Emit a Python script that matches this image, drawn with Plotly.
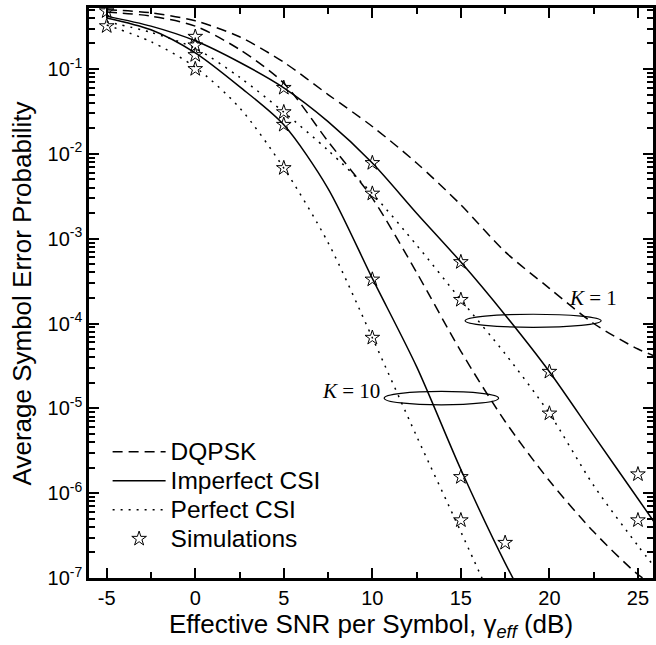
import plotly.graph_objects as go

# ---------------- data ----------------
snr_db = [-5, -2.5, 0, 2.5, 5, 7.5, 10, 12.5, 15, 17.5, 20, 22.5, 25, 26]

dqpsk_k1 = [0.50, 0.46, 0.37, 0.24, 0.12, 0.05, 0.021, 7.8e-3, 2.5e-3, 7e-4,
            2.6e-4, 1.0e-4, 5e-5, 4.1e-5]
dqpsk_k10 = [0.47, 0.42, 0.32, 0.17, 0.068, 0.014, 3e-3, 4e-4, 4.7e-5, 7e-6,
             1.4e-6, 3.5e-7, 1.1e-7, 8e-8]
imperfect_k1 = [0.42, 0.32, 0.215, 0.12, 0.06, 0.024, 7.8e-3, 2.0e-3, 5.3e-4,
                1.26e-4, 2.7e-5, 4.8e-6, 8.6e-7, 4.3e-7]
imperfect_k10 = [0.40, 0.29, 0.155, 0.062, 0.022, 3.9e-3, 3.4e-4, 3.1e-5,
                 1.9e-6, 1.5e-7, 1.6e-8, None, None, None]
perfect_k1 = [0.36, 0.27, 0.175, 0.08, 0.031, 0.011, 3.4e-3, 8.4e-4, 1.9e-4,
              4.4e-5, 8.7e-6, 1.23e-6, 2.4e-7, 1.3e-7]
perfect_k10 = [0.33, 0.21, 0.105, 0.035, 6.8e-3, 9e-4, 6.8e-5, 4.7e-6, 3.5e-7,
               2.5e-8, None, None, None, None]

sim_snr = [-5, -5, 0, 0, 0, 0, 5, 5, 5, 5, 10, 10, 10, 10,
           15, 15, 15, 15, 17.5, 20, 20, 25, 25]
sim_ser = [0.48, 0.32, 0.24, 0.19, 0.146, 0.10, 0.06, 0.031, 0.022, 6.8e-3,
           7.8e-3, 3.4e-3, 3.3e-4, 6.8e-5, 5.3e-4, 1.9e-4, 1.55e-6, 4.8e-7,
           2.6e-7, 2.7e-5, 8.7e-6, 1.67e-6, 4.8e-7]

x_ticks = [-5, 0, 5, 10, 15, 20, 25]
x_tick_text = ["-5", "0", "5", "10", "15", "20", "25"]
y_ticks = [1e-7, 1e-6, 1e-5, 1e-4, 1e-3, 1e-2, 1e-1]
y_tick_text = ["10<sup>-7</sup>", "10<sup>-6</sup>", "10<sup>-5</sup>",
               "10<sup>-4</sup>", "10<sup>-3</sup>", "10<sup>-2</sup>",
               "10<sup>-1</sup>"]

legend_names = ["DQPSK", "Imperfect CSI", "Perfect CSI", "Simulations"]
k_labels = ["<i>K</i> = 1", "<i>K</i> = 10"]
x_title = "Effective SNR per Symbol, \u03b3<sub><i>eff</i></sub> (dB)"
y_title = "Average Symbol Error Probability"

# ---------------- figure ----------------
SANS = "Liberation Sans, Arial, sans-serif"
SERIF = "Liberation Serif, Times New Roman, serif"


def legend_label(text):
    return "<span style='font-size:24.5px'>" + text + "</span>"


fig = go.Figure()

curves = [
    (dqpsk_k1, "10px,6px", legend_names[0], True),
    (dqpsk_k10, "10px,6px", legend_names[0], False),
    (imperfect_k1, "solid", legend_names[1], True),
    (imperfect_k10, "solid", legend_names[1], False),
    (perfect_k1, "2px,6px", legend_names[2], True),
    (perfect_k10, "2px,6px", legend_names[2], False),
]
for yvals, dash, name, show in curves:
    fig.add_trace(go.Scatter(
        x=snr_db, y=yvals, mode="lines", name=legend_label(name),
        legendgroup=name, showlegend=show, connectgaps=False,
        line=dict(color="black", width=1.5, dash=dash, shape="spline",
                  smoothing=0.8)))

fig.add_trace(go.Scatter(
    x=sim_snr, y=sim_ser, mode="markers", name=legend_label(legend_names[3]),
    marker=dict(symbol="star-open", size=11, color="black",
                line=dict(width=1, color="black"))))

# K annotations with ellipses
fig.add_shape(type="circle", xref="x", yref="y", x0=15.24, x1=22.92,
              y0=10 ** -4.045, y1=10 ** -3.891,
              line=dict(color="black", width=1.2))
fig.add_shape(type="circle", xref="x", yref="y", x0=10.67, x1=17.13,
              y0=10 ** -4.96, y1=10 ** -4.80,
              line=dict(color="black", width=1.2))
fig.add_annotation(x=22.44, y=-3.694, xref="x", yref="y", text=k_labels[0],
                   showarrow=False, font=dict(family=SERIF, size=21,
                                              color="black"))
fig.add_annotation(x=8.78, y=-4.79, xref="x", yref="y", text=k_labels[1],
                   showarrow=False, font=dict(family=SERIF, size=21,
                                              color="black"))

# y-axis title placed as rotated text
fig.add_annotation(x=-0.118, y=0.5, xref="paper", yref="paper",
                   text=y_title, textangle=-90, showarrow=False,
                   xanchor="center", yanchor="middle",
                   font=dict(family=SANS, size=26, color="black"))

axis_common = dict(
    showline=True, linecolor="black", linewidth=2.5, mirror="allticks",
    ticks="inside", tickcolor="black", tickwidth=2, ticklen=10,
    showgrid=False, zeroline=False,
    tickfont=dict(family=SANS, size=20, color="black"),
)

fig.update_xaxes(
    range=[-6.0, 25.85], tickvals=x_ticks, ticktext=x_tick_text,
    title=dict(text=x_title,
               font=dict(family=SANS, size=26, color="black"), standoff=4),
    minor=dict(ticks="inside", ticklen=6, tickwidth=2, tickcolor="black",
               dtick=2.5, tick0=0, showgrid=False),
    **axis_common)

fig.update_yaxes(
    type="log", range=[-7.0, -0.281], tickvals=y_ticks, ticktext=y_tick_text,
    minor=dict(ticks="inside", ticklen=6, tickwidth=2, tickcolor="black",
               dtick="D1", showgrid=False),
    **axis_common)

fig.update_layout(
    width=656, height=645,
    margin=dict(l=89, r=0, t=8, b=67),
    plot_bgcolor="white", paper_bgcolor="white",
    showlegend=True,
    legend=dict(x=0.033, y=0.2557, xanchor="left", yanchor="top",
                bgcolor="rgba(0,0,0,0)", borderwidth=0,
                font=dict(family=SANS, size=20, color="black"),
                itemwidth=53, tracegroupgap=0, traceorder="normal"),
)

fig.write_html("out.html")
